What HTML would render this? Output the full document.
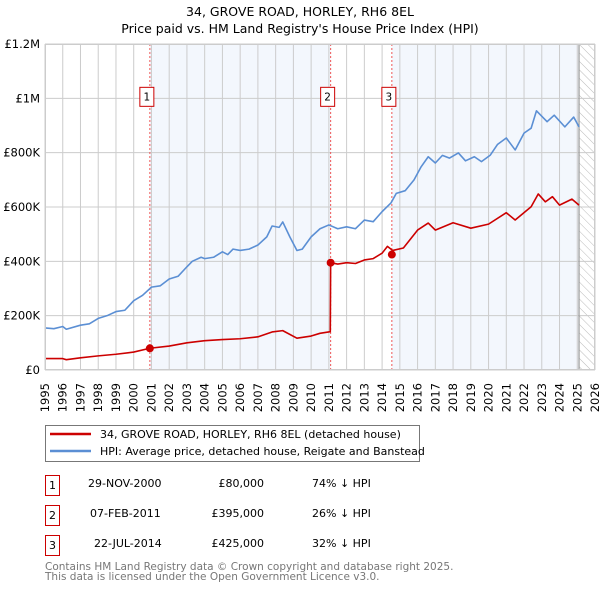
<!DOCTYPE html>
<html><head><meta charset="utf-8"><style>
body{margin:0;background:#fff;font-family:"DejaVu Sans","Liberation Sans",sans-serif;}
svg{display:block}
</style></head><body>
<svg id="chart" width="600" height="590" xmlns="http://www.w3.org/2000/svg" font-family="DejaVu Sans, Liberation Sans, sans-serif">
<text x="300" y="16" text-anchor="middle" font-size="12.5">34, GROVE ROAD, HORLEY, RH6 8EL</text>
<text x="300" y="33" text-anchor="middle" font-size="12.5">Price paid vs. HM Land Registry's House Price Index (HPI)</text>
<defs><pattern id="hatch" width="6" height="6" patternUnits="userSpaceOnUse" patternTransform="rotate(-45)"><line x1="0" y1="0" x2="0" y2="6" stroke="#bbb" stroke-width="1"/></pattern></defs>
<g id="plot"></g>
<g>
<rect x="45.5" y="425.5" width="374" height="36" fill="#fff" stroke="#777"/>
<line x1="50" y1="434" x2="91" y2="434" stroke="#cc0000" stroke-width="2.5"/>
<text x="100" y="438" font-size="11">34, GROVE ROAD, HORLEY, RH6 8EL (detached house)</text>
<line x1="50" y1="451" x2="91" y2="451" stroke="#5b8fd4" stroke-width="2.5"/>
<text x="100" y="455" font-size="11">HPI: Average price, detached house, Reigate and Banstead</text>
</g>
<g font-size="11">
<g><rect x="45.5" y="475.5" width="14" height="20" fill="none" stroke="#cc0000"/><text x="52.5" y="489" text-anchor="middle">1</text><text x="88" y="487">29-NOV-2000</text><text x="264" y="487" text-anchor="end">£80,000</text><text x="312" y="487">74% ↓ HPI</text></g>
<g><rect x="45.5" y="505.5" width="14" height="20" fill="none" stroke="#cc0000"/><text x="52.5" y="519" text-anchor="middle">2</text><text x="90" y="517">07-FEB-2011</text><text x="264" y="517" text-anchor="end">£395,000</text><text x="312" y="517">26% ↓ HPI</text></g>
<g><rect x="45.5" y="535.5" width="14" height="20" fill="none" stroke="#cc0000"/><text x="52.5" y="549" text-anchor="middle">3</text><text x="94" y="547">22-JUL-2014</text><text x="264" y="547" text-anchor="end">£425,000</text><text x="312" y="547">32% ↓ HPI</text></g>
</g>
<text x="45" y="570" font-size="10.5" fill="#777">Contains HM Land Registry data © Crown copyright and database right 2025.</text>
<text x="45" y="580" font-size="10.5" fill="#777">This data is licensed under the Open Government Licence v3.0.</text>
</svg>
<script>
const hpiYears=[1995,1995.5,1996,1996.2,1997,1997.5,1998,1998.5,1999,1999.5,2000,2000.5,2001,2001.5,2002,2002.5,2003,2003.3,2003.8,2004,2004.5,2005,2005.3,2005.6,2006,2006.5,2007,2007.5,2007.8,2008.2,2008.4,2008.8,2009.2,2009.5,2010,2010.5,2011,2011.5,2012,2012.5,2013,2013.5,2014,2014.5,2014.8,2015.3,2015.8,2016.2,2016.6,2017,2017.4,2017.8,2018.3,2018.7,2019.2,2019.6,2020.1,2020.5,2021,2021.5,2022,2022.4,2022.7,2023.3,2023.7,2024.3,2024.8,2025.1];
const hpiValues=[155,152,160,150,165,170,190,200,215,220,255,275,305,310,335,345,380,400,415,410,415,435,425,445,440,445,460,490,530,525,545,490,440,445,490,520,534,520,527,520,552,546,583,615,650,660,700,748,785,762,790,780,799,770,785,767,791,830,854,810,872,890,954,914,938,895,931,895];
const ppYears=[1995,1996,1996.2,1997,1998,1999,2000,2000.91,2002,2003,2004,2005,2006,2007,2007.8,2008.4,2009.2,2010,2010.5,2011.08,2011.1,2011.5,2012,2012.5,2013,2013.5,2014,2014.3,2014.6,2015.2,2016,2016.6,2017,2018,2019,2020,2021,2021.5,2022.4,2022.8,2023.2,2023.6,2024,2024.7,2025.1];
const ppValues=[42,42,38,45,52,58,66,80,88,100,108,112,115,122,140,145,117,125,135,141,395,390,395,392,405,410,430,455,440,449,515,541,515,542,522,537,579,552,601,648,619,638,607,629,607];
const saleYears=[2000.91,2011.1,2014.55];
const saleValues=[80,395,425];
const saleLabels=["1","2","3"];
const yTicks=[0,200,400,600,800,1000,1200];
const yTickLabels=["£0","£200K","£400K","£600K","£800K","£1M","£1.2M"];
const xTicks=[1995,1996,1997,1998,1999,2000,2001,2002,2003,2004,2005,2006,2007,2008,2009,2010,2011,2012,2013,2014,2015,2016,2017,2018,2019,2020,2021,2022,2023,2024,2025,2026];
const dataEnd=2025.1;
const L=45,R=595,T=44,B=370,x0=1995,x1=2026,yMax=1200;
const X=y=>L+(y-x0)/(x1-x0)*(R-L);
const Y=v=>B-v/yMax*(B-T);
const NS="http://www.w3.org/2000/svg";
const g=document.getElementById('plot');
function mk(t,a,p){const e=document.createElementNS(NS,t);for(const k in a)e.setAttribute(k,a[k]);(p||g).appendChild(e);return e;}
let r=mk('rect',{x:X(saleYears[0]),y:T,width:X(saleYears[1])-X(saleYears[0]),height:B-T,fill:'#eef3fc',opacity:0.7});


r=mk('rect',{x:X(saleYears[2]),y:T,width:X(dataEnd)-X(saleYears[2]),height:B-T,fill:'#eef3fc',opacity:0.7});


r=mk('rect',{x:X(dataEnd),y:T,width:R-X(dataEnd),height:B-T,fill:'url(#hatch)'});


xTicks.forEach(t=>{const l=mk('line',{x1:X(t),x2:X(t),y1:T,y2:B,stroke:'#ccc','stroke-width':1});


const tx=mk('text',{x:0,y:0,'text-anchor':'end','font-size':11.5,transform:'translate('+(X(t)+4)+','+(B+13)+') rotate(-90)'});tx.textContent=t;

});
yTicks.forEach((t,i)=>{const l=mk('line',{x1:L,x2:R,y1:Y(t),y2:Y(t),stroke:'#ccc','stroke-width':1});


const tx=mk('text',{x:L-5,y:Y(t)+4,'text-anchor':'end','font-size':11.5});tx.textContent=yTickLabels[i];

});
let el=mk('line',{x1:X(dataEnd),x2:X(dataEnd),y1:T,y2:B,stroke:'#999','stroke-width':1.2});


saleYears.forEach((s,i)=>{const l=mk('line',{x1:X(s),x2:X(s),y1:T,y2:B,stroke:'#ee5555','stroke-width':1,'stroke-dasharray':'2,2'});


const bx=mk('rect',{x:X(s)-10,y:Y(1000)-11,width:14,height:19,fill:'#fff',stroke:'#cc0000'});


const tx=mk('text',{x:X(s)-3,y:Y(1000)+2,'text-anchor':'middle','font-size':10.5});tx.textContent=saleLabels[i];

});
function line(xs,vs,c,n){const p=mk('polyline',{points:xs.map((x,i)=>X(x)+','+Y(vs[i])).join(' '),fill:'none',stroke:c,'stroke-width':1.6,'stroke-linejoin':'round'});

}
line(hpiYears,hpiValues,'#5b8fd4','hpi-line');
line(ppYears,ppValues,'#cc0000','price-paid-line');
saleYears.forEach((s,i)=>{const c=mk('circle',{cx:X(s),cy:Y(saleValues[i]),r:4,fill:'#cc0000'});

});
el=mk('rect',{x:L+0.5,y:T+0.5,width:R-L-1,height:B-T-1,fill:'none',stroke:'#ccc'});


</script>
</body></html>
